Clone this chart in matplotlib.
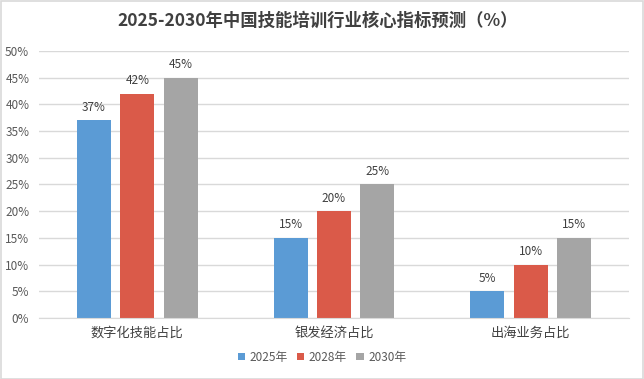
import matplotlib
matplotlib.use("Agg")
import matplotlib.pyplot as plt
import numpy as np
from matplotlib.patches import Rectangle

plt.rcParams['font.family'] = ['Noto Sans CJK SC', 'DejaVu Sans']

title = "2025-2030年中国技能培训行业核心指标预测（%）"
categories = ["数字化技能占比", "银发经济占比", "出海业务占比"]
series_names = ["2025年", "2028年", "2030年"]
values_2025 = [37, 15, 5]
values_2028 = [42, 20, 10]
values_2030 = [45, 25, 15]
yticks = [0, 5, 10, 15, 20, 25, 30, 35, 40, 45, 50]

colors = ["#5B9BD5", "#DA5A49", "#A5A5A5"]
text_color = "#595959"

fig = plt.figure(figsize=(6.44, 3.79), dpi=100)
ax = fig.add_axes([39/644, 1-318/379, (629-39)/644, (318-51)/379])

x = np.arange(len(categories))
width = 0.173
step = 0.221
all_vals = [values_2025, values_2028, values_2030]
for i, (name, vals) in enumerate(zip(series_names, all_vals)):
    bars = ax.bar(x + (i-1)*step, vals, width, color=colors[i], label=name, zorder=3)
    for b, v in zip(bars, vals):
        ax.text(b.get_x()+b.get_width()/2, v + 1.2, f"{v}%", ha='center', va='bottom',
                fontsize=8.5, color="#404040", zorder=4)

ax.set_xlim(-0.5, 2.5)
ax.set_ylim(0, 50)
ax.set_yticks(yticks)
ax.set_yticklabels([f"{t}%" for t in yticks], fontsize=8.5, color=text_color)
ax.set_xticks(x)
ax.set_xticklabels(categories, fontsize=9.5, color="#404040")
ax.tick_params(axis='both', length=0, pad=6)
ax.tick_params(axis='y', pad=7)
ax.grid(axis='y', color="#D9D9D9", linewidth=1, zorder=0)
for s in ['top', 'right', 'left']:
    ax.spines[s].set_visible(False)
ax.spines['bottom'].set_color("#D9D9D9")
ax.spines['bottom'].set_zorder(5)

fig.text(0.494, 1-21/379, title, ha='center', va='center', fontsize=12.5,
         fontweight='bold', color="#404040")

leg = fig.legend(loc='center', bbox_to_anchor=(0.5, 1-357/379), ncol=3, frameon=False,
                 fontsize=8.5, handlelength=0.6, handleheight=0.6, handletextpad=0.4,
                 columnspacing=0.8)
for t in leg.get_texts():
    t.set_color(text_color)

fig.patches.append(Rectangle((0.5/644, 0.5/379), 642.5/644, 377.5/379, transform=fig.transFigure,
                             fill=False, edgecolor="#D9D9D9", linewidth=1.2))

fig.savefig("out.png", dpi=100)
